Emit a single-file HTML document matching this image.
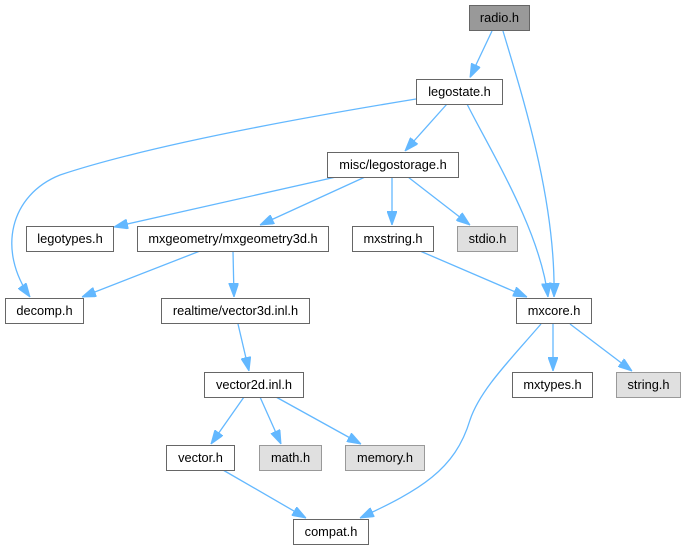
<!DOCTYPE html>
<html>
<head>
<meta charset="utf-8">
<style>
html,body{margin:0;padding:0;background:#fff;}
svg{display:block;}
text{font-family:"Liberation Sans",Arial,sans-serif;font-size:12.8px;fill:#000;text-anchor:middle;}
.n{fill:#fff;stroke:#666;stroke-width:1;}
.g{fill:#e0e0e0;stroke:#999;stroke-width:1;}
.r{fill:#999;stroke:#666;stroke-width:1;}
.e{fill:none;stroke:#63b8ff;stroke-width:1.3;marker-end:url(#ah);}
</style>
</head>
<body>
<svg width="686" height="549" viewBox="0 0 686 549" xmlns="http://www.w3.org/2000/svg">
<defs>
<marker id="ah" markerUnits="userSpaceOnUse" viewBox="0 0 14 10" refX="14" refY="5" markerWidth="14" markerHeight="10" orient="auto">
<path d="M0,0 L14,5 L0,10 z" fill="#63b8ff" stroke="#63b8ff" stroke-width="1"/>
</marker>
</defs>

<!-- edges -->
<path class="e" d="M492,31 L470,77.5"/>
<path class="e" d="M503,31 C522,95 556,200 554,297"/>
<path class="e" d="M416,99 C300,118 150,145 60,175 C10,195 -3,250 30,297"/>
<path class="e" d="M447,104 L405,151"/>
<path class="e" d="M467,104 C490,150 540,230 548,297"/>
<path class="e" d="M336,177 L114,227"/>
<path class="e" d="M365,177 L260,225"/>
<path class="e" d="M392,177 L392,225"/>
<path class="e" d="M408,177 L470,225"/>
<path class="e" d="M200,251 L82,297"/>
<path class="e" d="M233,251 L234,297"/>
<path class="e" d="M420,251 L527,297"/>
<path class="e" d="M553,324 L553,371"/>
<path class="e" d="M570,324 L632,371"/>
<path class="e" d="M541,324 C510,360 480,390 470,420 C455,470 420,490 360,518"/>
<path class="e" d="M238,324 L249,371"/>
<path class="e" d="M244,397 L211,444"/>
<path class="e" d="M260,397 L281,444"/>
<path class="e" d="M276,397 L361,444"/>
<path class="e" d="M223,470 L306,518"/>

<!-- nodes -->
<rect class="r" x="469.5" y="5.5" width="60" height="25"/>
<text x="499.5" y="22">radio.h</text>

<rect class="n" x="416.5" y="79.5" width="86" height="25"/>
<text x="459.5" y="96">legostate.h</text>

<rect class="n" x="327.5" y="152.5" width="131" height="25"/>
<text x="393" y="169">misc/legostorage.h</text>

<rect class="n" x="26.5" y="226.5" width="87" height="25"/>
<text x="70" y="243">legotypes.h</text>

<rect class="n" x="137.5" y="226.5" width="191" height="25"/>
<text x="233" y="243">mxgeometry/mxgeometry3d.h</text>

<rect class="n" x="352.5" y="226.5" width="81" height="25"/>
<text x="393" y="243">mxstring.h</text>

<rect class="g" x="457.5" y="226.5" width="60" height="25"/>
<text x="487.5" y="243">stdio.h</text>

<rect class="n" x="5.5" y="298.5" width="78" height="25"/>
<text x="44.5" y="315">decomp.h</text>

<rect class="n" x="161.5" y="298.5" width="148" height="25"/>
<text x="235.5" y="315">realtime/vector3d.inl.h</text>

<rect class="n" x="516.5" y="298.5" width="75" height="25"/>
<text x="554" y="315">mxcore.h</text>

<rect class="n" x="512.5" y="372.5" width="80" height="25"/>
<text x="552.5" y="389">mxtypes.h</text>

<rect class="g" x="616.5" y="372.5" width="64" height="25"/>
<text x="648.5" y="389">string.h</text>

<rect class="n" x="204.5" y="372.5" width="99" height="25"/>
<text x="254" y="389">vector2d.inl.h</text>

<rect class="n" x="166.5" y="445.5" width="68" height="25"/>
<text x="200.5" y="462">vector.h</text>

<rect class="g" x="259.5" y="445.5" width="62" height="25"/>
<text x="290.5" y="462">math.h</text>

<rect class="g" x="345.5" y="445.5" width="79" height="25"/>
<text x="385" y="462">memory.h</text>

<rect class="n" x="293.5" y="519.5" width="75" height="25"/>
<text x="331" y="536">compat.h</text>
</svg>
</body>
</html>
